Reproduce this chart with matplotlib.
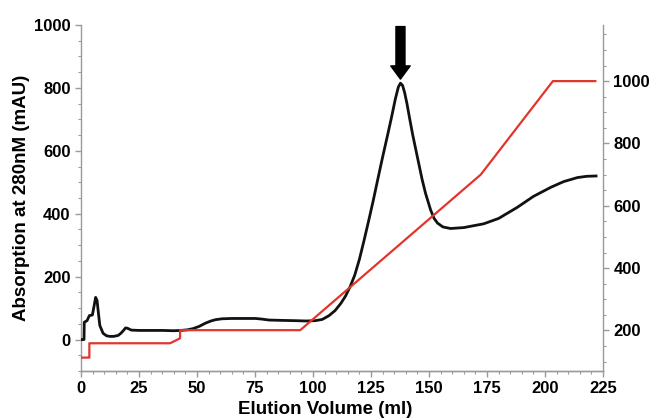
import matplotlib
matplotlib.use("Agg")
import matplotlib.pyplot as plt
from matplotlib.ticker import MultipleLocator

plt.rcParams['font.family'] = ['Liberation Sans', 'DejaVu Sans']
plt.rcParams['font.weight'] = 'bold'

# Absorbance trace (left axis, mAU)
abs_volume = [0, 1.3, 1.4, 2.6, 3.6, 4.9, 5.6, 6.3, 6.9, 7.5, 8.1, 9.5, 11, 12.4, 14, 16,
              17.2, 18.2, 19.2, 20, 21.7, 25, 30, 35, 40, 43, 46, 48.4, 51, 53.6, 56, 57.9,
              60.8, 65, 70, 75.2, 78, 81, 86, 92.5, 97, 101, 104, 106.9, 109.5, 112, 114,
              116, 118, 120, 122, 124, 126, 128, 130, 132, 133.8, 135.5, 136.8, 137.7,
              138.6, 139.5, 140.5, 141.6, 143, 145, 147, 148.5, 150.7, 152.2, 153.7, 156,
              159.3, 165, 173.6, 180, 188, 195, 202.5, 208, 214, 218, 222]
abs_mau = [0, 0, 55, 60, 76, 78, 105, 134, 125, 85, 45, 20, 12, 10, 10, 13,
           20, 28, 37, 36, 30, 29, 29, 29, 28, 29, 31, 35, 42, 52, 59, 63,
           66, 67, 67, 67, 65, 62, 61, 60, 59, 60, 64, 76, 92, 115, 138,
           168, 205, 255, 315, 378, 443, 512, 580, 645, 705, 765, 803, 815,
           808, 785, 750, 705, 650, 580, 510, 465, 412, 385, 370, 358,
           353, 356, 368, 385, 420, 455, 484, 502, 515, 519, 520]

# Gradient trace (right axis)
grad_volume = [0, 3.6, 3.6, 38.4, 42.7, 42.7, 94.5, 172.3, 203.4, 221.7]
grad_value = [113, 113, 159, 159, 175, 201, 201, 700, 1000, 1000]

x_ticks = [0, 25, 50, 75, 100, 125, 150, 175, 200, 225]
left_ticks = [0, 200, 400, 600, 800, 1000]
right_ticks = [200, 400, 600, 800, 1000]

peak_volume = 137.7

fig = plt.figure(figsize=(6.53, 4.19), dpi=100)
ax = fig.add_axes([81/653, 1 - 371/419, 522/653, 346/419])
ax2 = ax.twinx()

ax.plot(abs_volume, abs_mau, color='#111111', lw=2.0, zorder=3)
ax2.plot(grad_volume, grad_value, color='#e2352b', lw=1.6, zorder=2)

ax.set_xlim(0, 225)
ax.set_ylim(-100, 1000)
ax2.set_ylim(70, 1180)

ax.set_xticks(x_ticks)
ax.set_yticks(left_ticks)
ax2.set_yticks(right_ticks)
ax.xaxis.set_minor_locator(MultipleLocator(5))
ax.yaxis.set_minor_locator(MultipleLocator(50))
ax2.yaxis.set_minor_locator(MultipleLocator(50))

spine_col = '#9a9a9a'
for a in (ax, ax2):
    a.spines['top'].set_visible(False)
    for side in ('left', 'right', 'bottom'):
        a.spines[side].set_color(spine_col)
        a.spines[side].set_linewidth(1.0)
    a.tick_params(which='both', colors=spine_col, labelcolor='black', direction='out')
    a.tick_params(which='major', length=4, width=1, labelsize=12)
    a.tick_params(which='minor', length=2.5, width=0.8)
ax.spines['right'].set_visible(False)
ax2.spines['left'].set_visible(False)

for lab in ax.get_xticklabels() + ax.get_yticklabels() + ax2.get_yticklabels():
    lab.set_fontweight('bold')

ax.set_xlabel('Elution Volume (ml)', fontsize=13.5, fontweight='bold')
ax.xaxis.set_label_coords(0.468, -0.088)
ax.set_ylabel('Absorption at 280nM (mAU)', fontsize=13.5, fontweight='bold')
ax.yaxis.set_label_coords(-0.098, 0.5)

ax.annotate('', xy=(peak_volume, 828), xytext=(peak_volume, 995),
            arrowprops=dict(arrowstyle='simple,head_width=1.4,head_length=0.95,tail_width=0.65',
                            color='black', shrinkA=0, shrinkB=0, mutation_scale=10),
            annotation_clip=False, zorder=5)

fig.savefig('out.png', dpi=100)
